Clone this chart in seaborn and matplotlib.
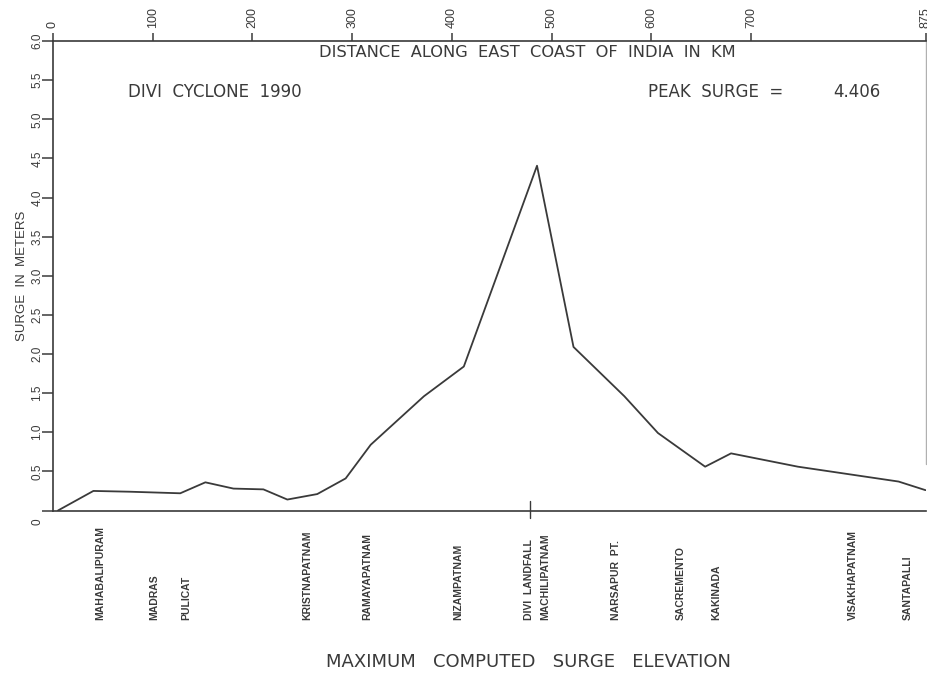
import matplotlib
matplotlib.use("Agg")
import matplotlib.pyplot as plt
import matplotlib.transforms as mtransforms
import seaborn as sns
import pandas as pd

# Maximum computed surge along the coast (distance in km, surge in m)
distance_km = [5, 40.5, 77, 127.6, 152.8, 181, 211, 235, 265, 293.5, 318.6,
               372, 412, 485.4, 522, 573, 606.7, 654, 680, 747, 848, 875]
surge_m = [0.0, 0.25, 0.24, 0.22, 0.36, 0.28, 0.27, 0.14, 0.21, 0.41, 0.84,
           1.46, 1.84, 4.406, 2.09, 1.46, 0.99, 0.56, 0.73, 0.56, 0.37, 0.26]

# Coastal stations and their positions along the coast (km)
stations = ["MAHABALIPURAM", "MADRAS", "PULICAT", "KRISTNAPATNAM",
            "RAMAYAPATNAM", "NIZAMPATNAM", "DIVI  LANDFALL", "MACHILIPATNAM",
            "NARSAPUR  PT.", "SACREMENTO", "KAKINADA", "VISAKHAPATNAM",
            "SANTAPALLI"]
station_km = [47, 102, 134, 254.5, 315.6, 406, 477, 494, 565, 630, 665, 802, 857]

landfall_km = 478.5
peak_surge = 4.406

top_ticks = [0, 100, 200, 300, 400, 500, 600, 700, 875]
y_ticks = [0, 0.5, 1.0, 1.5, 2.0, 2.5, 3.0, 3.5, 4.0, 4.5, 5.0, 5.5, 6.0]
y_tick_labels = ["0", "0.5", "1.0", "1.5", "2.0", "2.5", "3.0", "3.5",
                 "4.0", "4.5", "5.0", "5.5", "6.0"]

sns.set_style("white")
plt.rcParams["font.family"] = ["DejaVu Sans"]

ink = "#3a3a3a"
W, H = 927, 673
fig = plt.figure(figsize=(W / 100, H / 100), dpi=100)
ax = fig.add_axes([53 / W, 1 - 510.5 / H, (925.5 - 53) / W, (510.5 - 41) / H])

df = pd.DataFrame({"km": distance_km, "surge": surge_m})
sns.lineplot(data=df, x="km", y="surge", ax=ax, color=ink, linewidth=1.3,
             sort=False)

ax.set_xlim(0, 875)
ax.set_ylim(0, 6)

# spines
for side in ["top", "bottom", "left"]:
    ax.spines[side].set_color(ink)
    ax.spines[side].set_linewidth(1.2)
ax.spines["right"].set_visible(False)
ax.axvline(875, ymin=0.1, ymax=1.0, color="#b0b0b0", lw=1.0, clip_on=False)

# distance scale on top
ax.xaxis.set_ticks_position("top")
ax.xaxis.set_label_position("top")
ax.set_xticks(top_ticks)
ax.set_xticklabels([str(t) for t in top_ticks], rotation=90, fontsize=9,
                   color=ink, family=["Liberation Sans"])
ax.tick_params(axis="x", which="major", direction="out", length=6, width=1.1,
               color=ink, pad=3)
ax.set_xlabel("")

# surge scale on the left
ax.set_yticks(y_ticks)
ax.set_yticklabels(y_tick_labels, rotation=90, va="center", fontsize=8.5,
                   color=ink, family=["Liberation Sans"])
ax.tick_params(axis="y", which="major", direction="out", length=8, width=1.1,
               color=ink, pad=-1, left=True)
ax.set_ylabel("SURGE  IN  METERS", fontsize=9.5, color=ink, labelpad=2,
              family=["Liberation Sans"])
# the zero label sits just below the base line
zero_lbl = ax.get_yticklabels()[0]
zero_lbl.set_transform(zero_lbl.get_transform() +
                       mtransforms.ScaledTranslation(0, -0.11,
                                                     fig.dpi_scale_trans))

# landfall marker across the base line
ax.plot([landfall_km, landfall_km], [-0.1, 0.12], color=ink, lw=1.0,
        clip_on=False)

# station names below the coast line
for name, km in zip(stations, station_km):
    ax.text(km, -1.40, name, rotation=90, ha="center", va="bottom",
            fontsize=7.5, color=ink, family=["Liberation Sans Narrow",
                                             "Liberation Sans"],
            fontweight="bold")

ax.text(0.544, 0.976, "DISTANCE  ALONG  EAST  COAST  OF  INDIA  IN  KM",
        transform=ax.transAxes, ha="center", va="center", color=ink,
        fontsize=11.7)
big = dict(color=ink, fontsize=12, transform=ax.transAxes, va="center")
ax.text(0.086, 0.891, "DIVI  CYCLONE  1990", ha="left", **big)
ax.text(0.682, 0.891, "PEAK  SURGE  =", ha="left", **big)
ax.text(0.948, 0.891, f"{peak_surge:.3f}", ha="right", **big)

fig.text(529 / W, 1 - 662 / H, "MAXIMUM   COMPUTED   SURGE   ELEVATION",
         ha="center", va="center", color=ink, fontsize=13)

fig.savefig("out.png", dpi=100)
